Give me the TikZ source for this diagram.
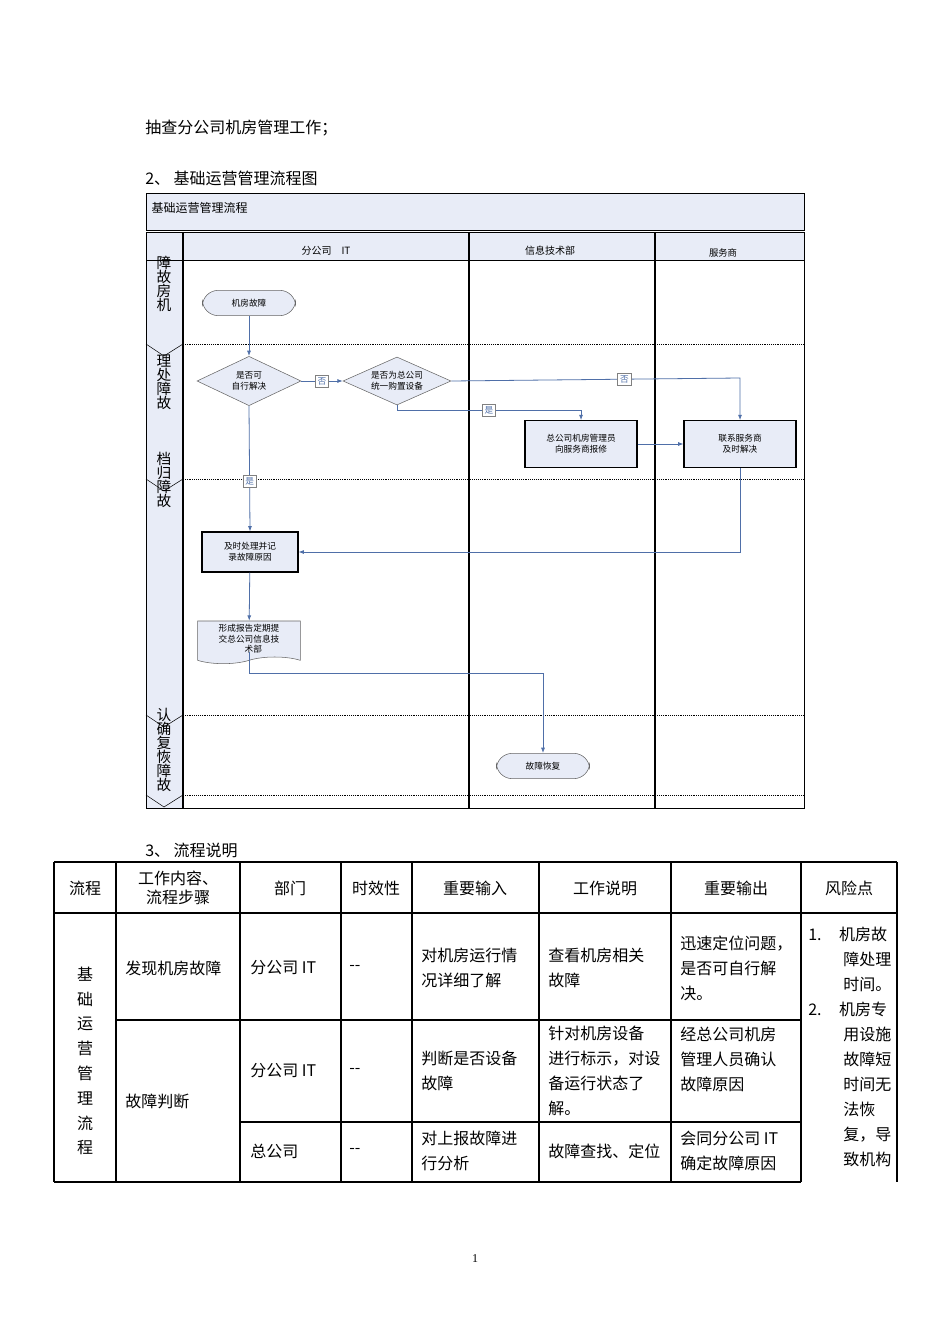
\documentclass[tikz,border=0pt]{standalone}
\usepackage{fontspec}
\setmainfont{Liberation Serif}
\newfontfamily\cjk{Noto Sans CJK SC}
\usetikzlibrary{shapes.geometric,shapes.symbols,arrows.meta}
\definecolor{lane}{HTML}{E8ECF7}
\definecolor{flow}{HTML}{4F6FA8}
\tikzset{
 x=0.75pt,y=-0.75pt,
 fc/.style={font=\cjk\fontsize{6.5}{8}\selectfont,align=center,inner sep=1pt},
 pill/.style={fc,draw=gray!80!black,fill=lane,rounded corners=12pt,minimum width=70pt,minimum height=19pt},
 dia/.style={fc,draw=gray!80!black,fill=lane,diamond,aspect=2.1,inner sep=0pt},
 pbox/.style={fc,draw=black,thick,fill=lane,minimum width=84pt,minimum height=35pt},
 conn/.style={flow,semithick,-{Latex[length=4pt,width=3pt]}},
 lbl/.style={fc,draw=gray,fill=white,minimum width=10pt,minimum height=9pt},
 tx/.style={font=\cjk\fontsize{12}{18.75}\selectfont,align=left,inner sep=0pt},
 hd/.style={font=\cjk\fontsize{12}{14}\selectfont,align=center,inner sep=0pt},
 vl/.style={font=\cjk\fontsize{11}{10.5}\selectfont,align=center,inner sep=0pt},
}
\begin{document}
\begin{tikzpicture}
\useasboundingbox[fill=white] (0,0) rectangle (950,1344);
\node[tx,anchor=west] (t1) at (145,128) {抽查分公司机房管理工作；};
\node[tx,anchor=west] (t2) at (145,178) {2、 基础运营管理流程图};
% frame
\draw[fill=lane] (146,193) rectangle (804,230);
\node[fc,anchor=west,font=\cjk\fontsize{9}{10}\selectfont] (ttl) at (150,208) {基础运营管理流程};
\draw[fill=lane] (146,232) rectangle (804,260);
\draw[fill=lane] (146,260) rectangle (183,808);
\draw (146,232) rectangle (804,808);
\foreach \y in {344,479,715,795}{
  \draw (146,\y) -- (164,356+\y-344) -- (183,\y);
  \draw[densely dotted] (183,\y) -- (804,\y);}
\draw[very thick] (183,232) -- (183,808);
\draw[very thick] (469,232) -- (469,808);
\draw[very thick] (655,232) -- (655,808);
\node[fc,font=\cjk\fontsize{7.5}{9}\selectfont] (h1) at (326,251) {分公司\quad IT};
\node[fc,font=\cjk\fontsize{7.5}{9}\selectfont] (h2) at (550,251) {信息技术部};
\node[fc,font=\cjk\fontsize{7}{9}\selectfont] (h3) at (723,253) {服务商};
\node[vl] (v1) at (164,284) {障\\故\\房\\机};
\node[vl] (v2) at (164,382) {理\\处\\障\\故};
\node[vl] (v3) at (164,480) {档\\归\\障\\故};
\node[vl] (v4) at (164,750) {认\\确\\复\\恢\\障\\故};
% nodes
\node[pill] (start) at (249,303) {机房故障};
\node[dia,minimum width=78pt,minimum height=37pt] (d1) at (249,381) {是否可\\自行解决};
\node[dia,minimum width=81pt,minimum height=36pt] (d2) at (397,381) {是否为总公司\\统一购置设备};
\node[pbox] (b1) at (581,444) {总公司机房管理员\\向服务商报修};
\node[pbox] (b2) at (740,444) {联系服务商\\及时解决};
\node[pbox,minimum width=72pt,minimum height=30pt] (b3) at (250,552) {及时处理并记\\录故障原因};
\node[fc,tape,tape bend top=none,draw=gray!80!black,fill=lane,minimum width=77pt,minimum height=32pt,align=left] (doc) at (249,639) {形成报告定期提\\交总公司信息技\\\hspace*{3em}术部};
\node[pill] (end) at (543,766) {故障恢复};
% connectors
\draw[conn] (start) -- (d1);
\draw[conn] (d1) -- (d2) node[lbl,midway] {否};
\draw[conn] (d2.east) -- (740,378) node[lbl,pos=0.6] {否} -- (b2.north);
\draw[conn] (d2.south) -- (397,410) -- (581,410) node[lbl,pos=0.5] {是} -- (b1.north);
\draw[conn] (b1) -- (b2);
\draw[conn] (d1.south) -- (b3.north) node[lbl,pos=0.6] {是};
\draw[conn] (b2.south) -- (740,552) -- (b3.east);
\draw[conn] (b3) -- (doc);
\draw[conn] (249,652) -- (249,673) -- (543,673) -- (end.north);
% table
\node[tx,anchor=west] (t3) at (145,850) {3、 流程说明};
\begin{scope}[thick]
\draw (54,862) -- (897,862);
\draw (54,913) -- (897,913);
\draw (116,1020) -- (801,1020);
\draw (240,1122) -- (801,1122);
\draw (54,1182) -- (801,1182);
\foreach \x in {54,116,240,341,412,539,671,801,897}{\draw (\x,862) -- (\x,1182);}
\end{scope}
\node[hd] (c1) at (85,888) {流程};
\node[hd] (c2) at (178,888) {工作内容、\\流程步骤};
\node[hd] (c3) at (290,888) {部门};
\node[hd] (c4) at (376,888) {时效性};
\node[hd] (c5) at (475,888) {重要输入};
\node[hd] (c6) at (605,888) {工作说明};
\node[hd] (c7) at (736,888) {重要输出};
\node[hd] (c8) at (849,888) {风险点};
\node[tx,align=center,font=\cjk\fontsize{12}{18.6}\selectfont] (p) at (85,1061) {基\\础\\运\\营\\管\\理\\流\\程};
\node[tx,anchor=west] (r1a) at (125,968) {发现机房故障};
\node[tx,anchor=west] (r1b) at (250,968) {分公司 IT};
\node[tx,anchor=west] (r1c) at (349,968) {--};
\node[tx,anchor=west] (r1d) at (421,968) {对机房运行情\\况详细了解};
\node[tx,anchor=west] (r1e) at (548,968) {查看机房相关\\故障};
\node[tx,anchor=west] (r1f) at (680,968) {迅速定位问题，\\是否可自行解\\决。};
\node[tx,anchor=west] (r2a) at (125,1101) {故障判断};
\node[tx,anchor=west] (r2b) at (250,1071) {分公司 IT};
\node[tx,anchor=west] (r2c) at (349,1071) {--};
\node[tx,anchor=west] (r2d) at (421,1071) {判断是否设备\\故障};
\node[tx,anchor=west] (r2e) at (548,1071) {针对机房设备\\进行标示，对设\\备运行状态了\\解。};
\node[tx,anchor=west] (r2f) at (680,1059) {经总公司机房\\管理人员确认\\故障原因};
\node[tx,anchor=west] (r3b) at (250,1151) {总公司};
\node[tx,anchor=west] (r3c) at (349,1151) {--};
\node[tx,anchor=west] (r3d) at (421,1151) {对上报故障进\\行分析};
\node[tx,anchor=west] (r3e) at (548,1151) {故障查找、定位};
\node[tx,anchor=west] (r3f) at (680,1151) {会同分公司 IT\\确定故障原因};
\node[tx,anchor=north west,font=\cjk\fontsize{12}{18.75}\selectfont] (risk) at (808,927) {1.\hspace{1.1em}机房故\\\hspace{2.2em}障处理\\\hspace{2.2em}时间。\\2.\hspace{1.1em}机房专\\\hspace{2.2em}用设施\\\hspace{2.2em}故障短\\\hspace{2.2em}时间无\\\hspace{2.2em}法恢\\\hspace{2.2em}复，导\\\hspace{2.2em}致机构};
\node[font=\fontsize{9}{10}\selectfont] (pg) at (475,1259) {1};
\end{tikzpicture}
\end{document}
